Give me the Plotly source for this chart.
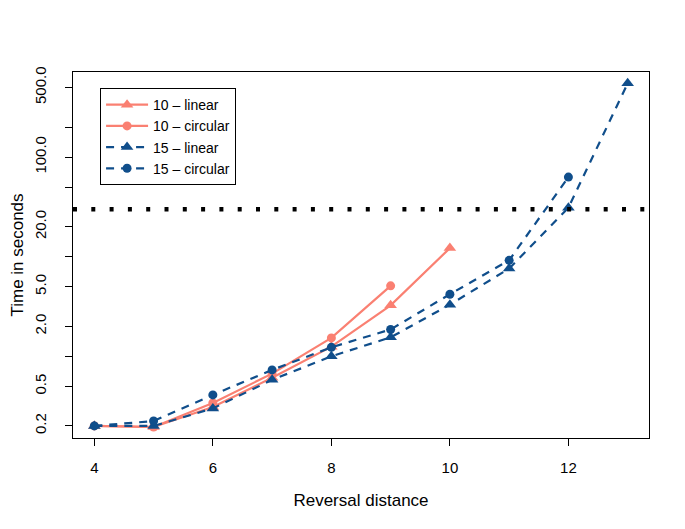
import numpy as np
import plotly.graph_objects as go

# ---- data ----
x10 = [4, 5, 6, 7, 8, 9, 10]
lin10 = [0.2, 0.195, 0.31, 0.61, 1.25, 3.25, 12.2]
x10c = [4, 5, 6, 7, 8, 9]
circ10 = [0.2, 0.195, 0.34, 0.67, 1.53, 5.1]
x15 = [4, 5, 6, 7, 8, 9, 10, 11, 12, 13]
lin15 = [0.2, 0.2, 0.30, 0.58, 1.0, 1.55, 3.3, 7.6, 31, 550]
x15c = [4, 5, 6, 7, 8, 9, 10, 11, 12]
circ15 = [0.2, 0.224, 0.41, 0.73, 1.23, 1.86, 4.2, 9.2, 63]
threshold = 30

ytickvals = [0.2, 0.5, 1, 2, 5, 10, 20, 50, 100, 200, 500]
yticktext = ["0.2", "0.5", "", "2.0", "5.0", "", "20.0", "", "100.0", "", "500.0"]
xtickvals = [4, 6, 8, 10, 12]

SALMON = "#FA8072"
BLUE = "#104E8B"
FONT = "Liberation Sans, Arial, sans-serif"

fig = go.Figure()
fig.add_trace(go.Scatter(x=x10, y=lin10, mode="lines+markers", name="10 \u2013 linear",
                         line=dict(color=SALMON, width=2.2),
                         marker=dict(symbol="triangle-up", size=11, color=SALMON)))
fig.add_trace(go.Scatter(x=x10c, y=circ10, mode="lines+markers", name="10 \u2013 circular",
                         line=dict(color=SALMON, width=2.2),
                         marker=dict(symbol="circle", size=9, color=SALMON)))
fig.add_trace(go.Scatter(x=x15, y=lin15, mode="lines+markers", name="15 \u2013 linear",
                         line=dict(color=BLUE, width=2.2, dash="8px,7px"),
                         marker=dict(symbol="triangle-up", size=11, color=BLUE)))
fig.add_trace(go.Scatter(x=x15c, y=circ15, mode="lines+markers", name="15 \u2013 circular",
                         line=dict(color=BLUE, width=2.2, dash="8px,7px"),
                         marker=dict(symbol="circle", size=9, color=BLUE)))

fig.add_shape(type="line", xref="paper", x0=0, x1=1, yref="y",
              y0=threshold, y1=threshold,
              line=dict(color="black", width=4.5, dash="4px,14.3px"))

fig.update_layout(
    width=685, height=529,
    margin=dict(l=65, r=44, t=64, b=99),
    paper_bgcolor="white", plot_bgcolor="white",
    font=dict(family=FONT, color="black", size=15),
    showlegend=True,
    legend=dict(x=0.047, y=0.956, xanchor="left", yanchor="top",
                bordercolor="black", borderwidth=1, bgcolor="white",
                font=dict(size=14), tracegroupgap=0, itemwidth=42),
)
fig.update_xaxes(range=[3.64, 13.36], tickvals=xtickvals, ticks="outside", ticklen=7,
                 tickcolor="black", showline=True, linecolor="black", linewidth=1,
                 mirror=True, showgrid=False, zeroline=False, automargin=False,
                 tickfont=dict(size=15), ticklabelstandoff=9,
                 title=dict(text="Reversal distance", font=dict(size=17), standoff=19))
fig.update_yaxes(type="log", range=[np.log10(0.1513), np.log10(715)], tickvals=ytickvals,
                 ticktext=yticktext, ticks="outside", ticklen=7, tickangle=-90,
                 tickcolor="black", showline=True, linecolor="black", linewidth=1,
                 mirror=True, showgrid=False, zeroline=False, automargin=False,
                 tickfont=dict(size=15), ticklabelstandoff=13,
                 title=dict(text="Time in seconds", font=dict(size=17), standoff=26))

fig.write_html("out.html")
